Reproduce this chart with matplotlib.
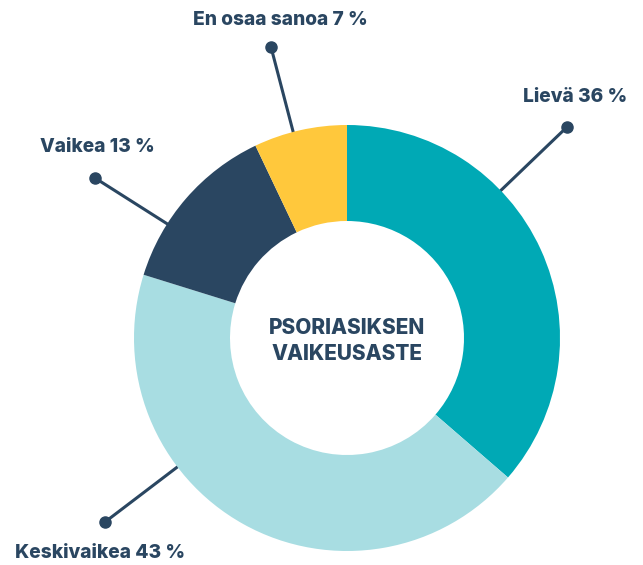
import numpy as np
import matplotlib.pyplot as plt

# data
categories = ["Lievä", "Keskivaikea", "Vaikea", "En osaa sanoa"]
shares = [36, 43, 13, 7]
colors = ["#00A9B5", "#A8DDE2", "#2A4661", "#FFC83C"]
center_title = "PSORIASIKSEN\nVAIKEUSASTE"

# label layout (pixel coords, y measured from top of image)
dot_pos = [(567, 127), (105, 522), (95, 178), (271, 47)]
text_pos = [(627, 97, "right"), (15, 553, "left"), (40, 147, "left"), (280, 20, "center")]

W, H = 643, 565
cx, cy = 347, H - 338
r_out, r_in = 213, 117
navy = "#2A4661"

plt.rcParams['font.family'] = ['Inter', 'DejaVu Sans']
fig = plt.figure(figsize=(W / 100, H / 100), dpi=100)
ax = fig.add_axes([0, 0, 1, 1])

ax.pie(shares, colors=colors, startangle=90, counterclock=False,
       radius=r_out, center=(cx, cy),
       wedgeprops=dict(width=r_out - r_in, linewidth=0, zorder=2))

# leader lines with dots
r_mid = (r_out + r_in) / 2
for (dx, dy), name, val, (tx, ty, ha) in zip(dot_pos, categories, shares, text_pos):
    px, py = dx, H - dy
    vx, vy = cx - px, cy - py
    d = np.hypot(vx, vy)
    ex, ey = cx - vx / d * r_mid, cy - vy / d * r_mid
    ax.plot([px, ex], [py, ey], color=navy, lw=2.2, zorder=1, solid_capstyle='round')
    ax.plot(px, py, 'o', color=navy, ms=8, zorder=3)
    ax.text(tx, H - ty, f"{name} {val} %", ha=ha, va="center",
            fontsize=13.8, fontweight=800, color=navy)

ax.text(cx, cy - 3, center_title, ha="center", va="center", fontsize=15,
        fontweight=800, color=navy, linespacing=1.4)

ax.set_xlim(0, W)
ax.set_ylim(0, H)
ax.set_aspect('equal')
ax.axis('off')
fig.savefig("out.png", dpi=100, facecolor="white")
